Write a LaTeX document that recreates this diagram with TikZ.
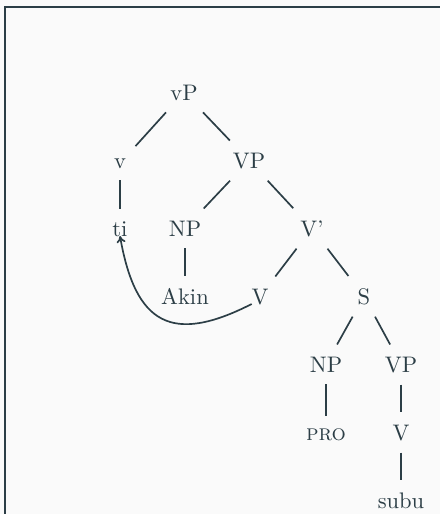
\documentclass[tikz,border=0pt]{standalone}
\usetikzlibrary{arrows.meta}
\definecolor{ink}{RGB}{44,62,70}
\definecolor{paper}{RGB}{250,250,250}
\begin{document}
\begin{tikzpicture}[x=0.4444pt,y=0.4444pt,
  cat/.style={anchor=base, inner sep=5.2pt, text=ink, font=\fontsize{10}{12}\selectfont},
  branch/.style={draw=ink, line width=0.75pt},
  move/.style={draw=ink, line width=0.75pt, -{To[length=3pt,width=4pt]}}]
% canvas and frame
\fill[paper] (0,0) rectangle (440,-514);
\useasboundingbox (0,0) rectangle (440,-514);
\draw[ink, line width=1pt] (5.3,-514) -- (5.3,-6.7) -- (440,-6.7);

% tree nodes
\node[cat] (vP)   at (184,-100) {vP};
\node[cat] (v)    at (120,-168) {v};
\node[cat] (VP)   at (249,-168) {VP};
\node[cat] (ti)   at (120,-236) {ti};
\node[cat] (NP)   at (185,-236) {NP};
\node[cat] (Vbar) at (312,-236) {V'};
\node[cat] (Akin) at (185,-304) {Akin};
\node[cat] (V)    at (260,-304) {V};
\node[cat] (S)    at (364,-304) {S};
\node[cat] (NPb)  at (326,-372) {NP};
\node[cat] (VPb)  at (401,-372) {VP};
\node[cat] (pro)  at (326,-440) {\textsc{pro}};
\node[cat] (Vb)   at (401,-440) {V};
\node[cat] (subu) at (401,-508) {subu};

% branches
\draw[branch] (vP) -- (v);
\draw[branch] (vP) -- (VP);
\draw[branch] (v) -- (ti);
\draw[branch] (VP) -- (NP);
\draw[branch] (VP) -- (Vbar);
\draw[branch] (NP) -- (Akin);
\draw[branch] (Vbar) -- (V);
\draw[branch] (Vbar) -- (S);
\draw[branch] (S) -- (NPb);
\draw[branch] (S) -- (VPb);
\draw[branch] (NPb) -- (pro);
\draw[branch] (VPb) -- (Vb);
\draw[branch] (Vb) -- (subu);

% head movement
\draw[move] ([xshift=-3.7pt]V.base) to[out=207,in=-80,looseness=1.55] (ti.base);
\end{tikzpicture}
\end{document}
